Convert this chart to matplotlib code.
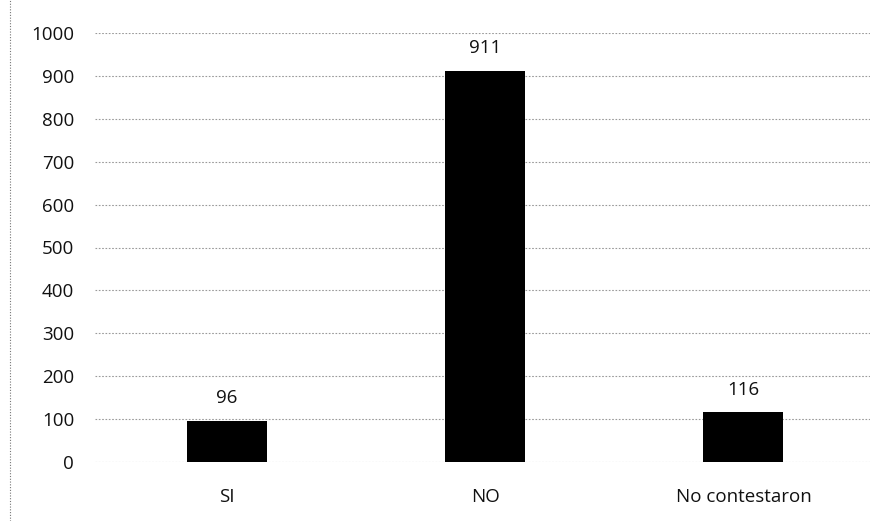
import matplotlib
matplotlib.use("Agg")
import matplotlib.pyplot as plt
from matplotlib.lines import Line2D

categories = ["SI", "NO", "No contestaron"]
values = [96, 911, 116]
yticks = [0, 100, 200, 300, 400, 500, 600, 700, 800, 900, 1000]

plt.rcParams['font.family'] = ['Open Sans', 'DejaVu Sans']

W, H = 888, 521
fig = plt.figure(figsize=(W / 100, H / 100), dpi=100)
ax = fig.add_axes([95 / W, 1 - 462 / H, (870 - 95) / W, (462 - 33) / H])

x = range(len(categories))
ax.bar([xi + 0.01 for xi in x], values, width=0.31, color="black", zorder=3)
for xi, v in zip(x, values):
    ax.text(xi + 0.01, v + 32, str(v), ha="center", va="bottom", fontsize=13.5, color="#111111")

ax.set_xlim(-0.5, len(categories) - 0.5)
ax.set_ylim(0, 1000)
ax.set_yticks(yticks)
ax.set_xticks([xi + 0.01 for xi in x])
ax.set_xticklabels(categories)
ax.tick_params(axis="both", length=0, labelsize=13.5, colors="#111111")
ax.tick_params(axis="y", pad=15)
ax.tick_params(axis="x", pad=19)

ax.grid(axis="y", color="#9a9a9a", linestyle=(0, (1.5, 1.5)), linewidth=0.8, zorder=0)
for s in ax.spines.values():
    s.set_visible(False)

# thin dotted border on the left edge of the figure
fig.add_artist(Line2D([10 / W, 10 / W], [0.0, 1.0], transform=fig.transFigure,
                      color="#777777", linestyle=(0, (1, 1.5)), linewidth=0.8))

fig.savefig("out.png", dpi=100, facecolor="white")
